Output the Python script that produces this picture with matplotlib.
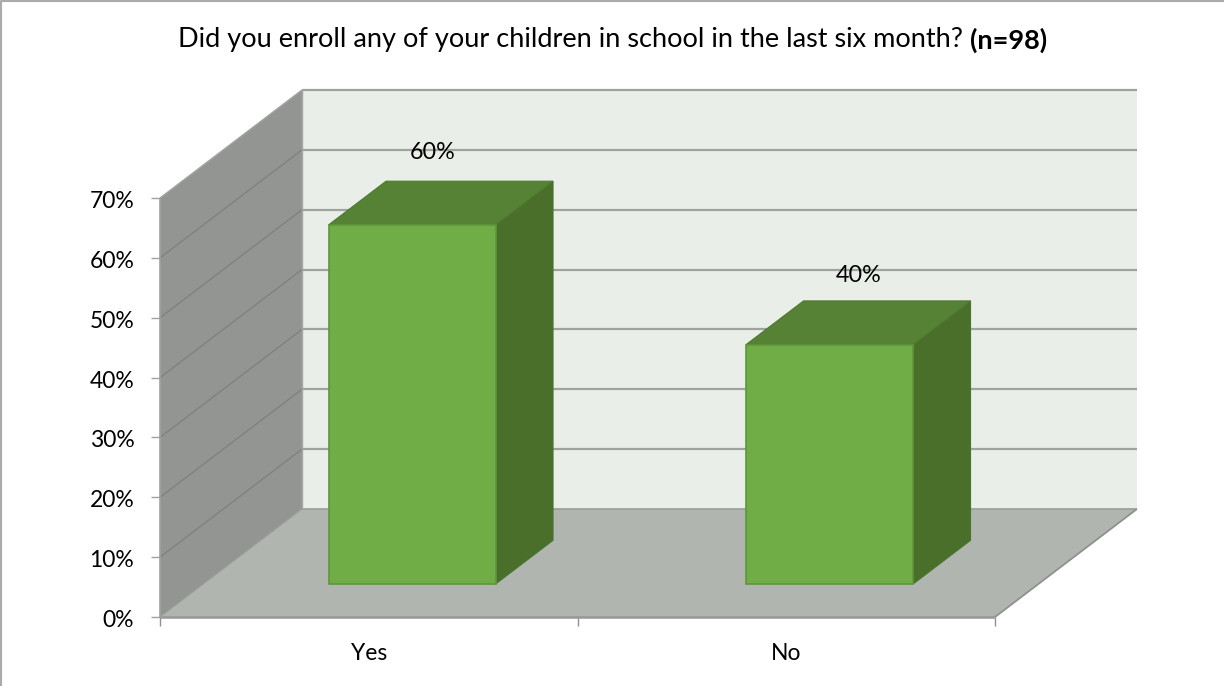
import matplotlib
matplotlib.use("Agg")
import matplotlib.pyplot as plt
from matplotlib.patches import Polygon
from matplotlib.lines import Line2D
from matplotlib.transforms import ScaledTranslation

categories = ["Yes", "No"]
values = [60, 40]
value_labels = ["60%", "40%"]
y_ticks = [0, 10, 20, 30, 40, 50, 60, 70]
y_tick_labels = ["0%", "10%", "20%", "30%", "40%", "50%", "60%", "70%"]
title_text = "Did you enroll any of your children in school in the last six month? "
title_sample = "(n=98)"

plt.rcParams["font.family"] = ["Lato", "DejaVu Sans"]

W, H = 1224, 686
fig = plt.figure(figsize=(W / 100, H / 100), dpi=100, facecolor="white")
ax = fig.add_axes([160 / W, (H - 617) / H, 835 / W, 419 / H])
ax.set_xlim(0, len(categories))
ax.set_ylim(0, 70)
ax.patch.set_visible(False)
for spine in ax.spines.values():
    spine.set_visible(False)

# Oblique projection: depth 0 is the front plane, depth 1 the back wall.
DEPTH_X = 0.340
DEPTH_Y = 18.04


def project(x, v, depth):
    return x + depth * DEPTH_X, v + depth * DEPTH_Y


def face(corners, color, edge=None, lw=0.0, z=1):
    pts = [project(*c) for c in corners]
    ax.add_patch(Polygon(pts, closed=True, facecolor=color,
                         edgecolor=edge if edge else color, linewidth=lw,
                         zorder=z, clip_on=False, joinstyle="miter"))


def seg(a, b, color, lw, z=2):
    p, q = project(*a), project(*b)
    ax.add_line(Line2D([p[0], q[0]], [p[1], q[1]], color=color, linewidth=lw,
                       zorder=z, clip_on=False, solid_capstyle="butt"))


n = len(categories)
top = y_ticks[-1]
# Back wall, side wall and floor
face([(0, 0, 1), (n, 0, 1), (n, top, 1), (0, top, 1)], "#E9EFE8")
face([(0, 0, 0), (0, 0, 1), (0, top, 1), (0, top, 0)], "#929592")
face([(0, 0, 0), (n, 0, 0), (n, 0, 1), (0, 0, 1)], "#B1B5B0")

# Gridlines wrap from the side wall onto the back wall
for t in y_ticks:
    if t > 0:
        seg((0, t, 1), (n, t, 1), "#A0A2A0", 1.6)
        seg((0, t, 0), (0, t, 1), "#7F8280" if t < top else "#A3A5A2", 1.0)
seg((0, 0, 1), (n, 0, 1), "#9A9C99", 1.2)
seg((0, 0, 0), (0, 0, 1), "#9A9D9A", 0.8)
seg((n, 0, 0), (n, 0, 1), "#8E918E", 1.3)
seg((0, 0, 0), (0, top, 0), "#A0A2A0", 1.2)
seg((0, top, 1), (0, 0, 1), "#A3A5A2", 1.0)
seg((0, 0, 0), (n, 0, 0), "#979997", 1.8)

# 3D bars
BAR_WIDTH = 0.40
D0, D1 = 0.305, 0.71
LABEL_OFFSETS = [(-37, 29), (-28, 25)]
for i, (v, lab, off) in enumerate(zip(values, value_labels, LABEL_OFFSETS)):
    x0, x1 = i + 0.5 - BAR_WIDTH / 2, i + 0.5 + BAR_WIDTH / 2
    face([(x1, 0, D0), (x1, 0, D1), (x1, v, D1), (x1, v, D0)],
         "#4A6F2B", "#4A752B", 0.8, z=3)
    face([(x0, v, D0), (x1, v, D0), (x1, v, D1), (x0, v, D1)],
         "#568235", "#50792F", 0.8, z=3)
    face([(x0, 0, D0), (x1, 0, D0), (x1, v, D0), (x0, v, D0)],
         "#70AD47", "#5E963A", 1.2, z=4)
    lx, ly = project(i + 0.5, v, D1)
    ax.annotate(lab, (lx, ly), xytext=off, textcoords="offset pixels",
                ha="center", va="center", fontsize=16.8, color="black", zorder=6,
                annotation_clip=False)

# Axes ticks come from the scales; category labels sit between the major ticks
ax.set_yticks(y_ticks, y_tick_labels)
ax.set_xticks(range(n + 1), [""] * (n + 1))
ax.set_xticks([i + 0.5 for i in range(n)], categories, minor=True)
ax.tick_params(axis="y", length=6.5, width=1.0, color="#A0A2A0", labelsize=16.5, pad=12)
ax.tick_params(axis="x", which="major", length=6.5, width=1.0, color="#8E918E")
ax.tick_params(axis="x", which="minor", length=0, labelsize=16.5, pad=19)
shift = ScaledTranslation(0, -1.5 / 100, fig.dpi_scale_trans)
for label in ax.get_yticklabels():
    label.set_transform(label.get_transform() + shift)

# Title in two weights
t = fig.text(178 / W, 1 - 40 / H, title_text, ha="left", va="center", fontsize=19.5, color="black")
ax.annotate(title_sample, xy=(1, 0.5), xycoords=t, ha="left", va="center", fontsize=19.5,
            fontweight="bold", color="black", annotation_clip=False)

# Chart-area border along the top and left edges
fig.add_artist(Line2D([1 / W, 1 / W, 1], [0, 1 - 1 / H, 1 - 1 / H], transform=fig.transFigure,
                      color="#ABABAB", linewidth=1.5))

fig.savefig("out.png", dpi=100)
